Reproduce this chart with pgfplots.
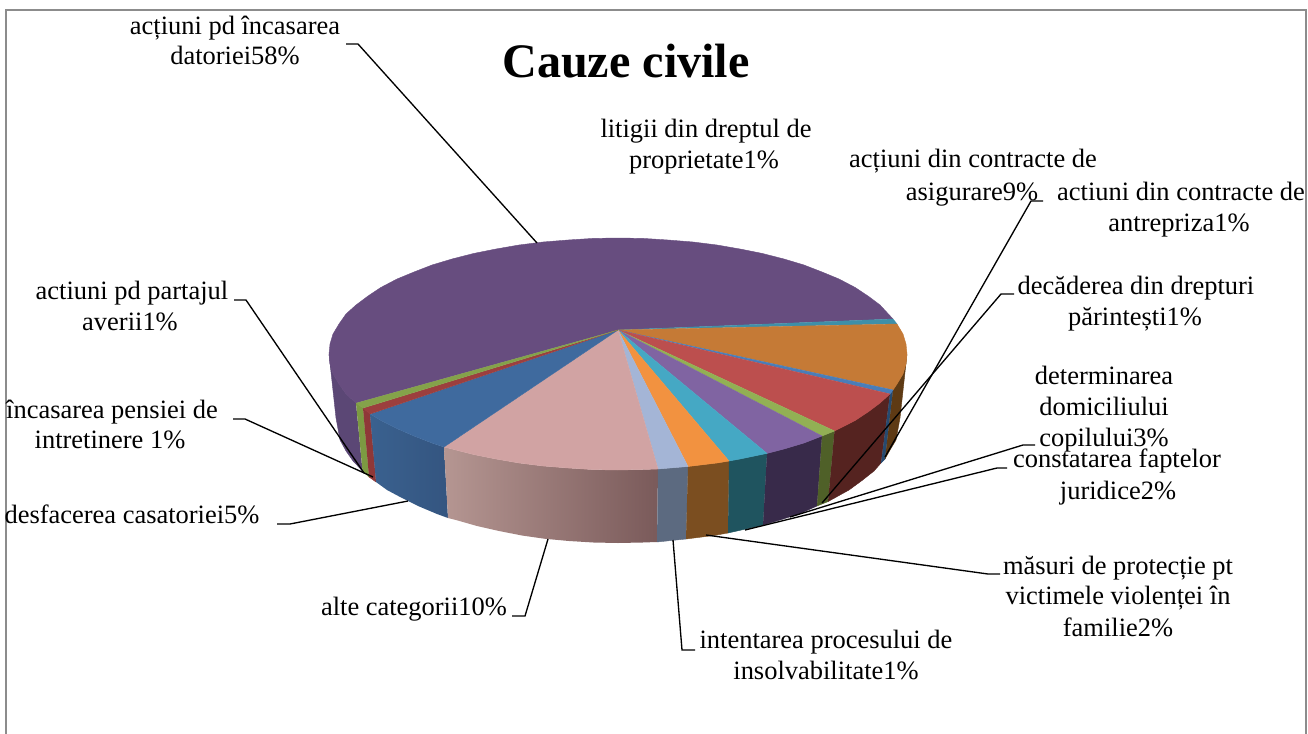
\documentclass[border=0pt]{standalone}
\usepackage{fontspec}
\setmainfont{Liberation Serif}
\usepackage{pgfplots}
\pgfplotsset{compat=1.18}

% top faces
\definecolor{cBig}{HTML}{674D7F}
\definecolor{cLit}{HTML}{3F8FA8}
\definecolor{cAsig}{HTML}{C57A36}
\definecolor{cAntr}{HTML}{4A7DB8}
\definecolor{cDec}{HTML}{BC4F4E}
\definecolor{cDomi}{HTML}{92B054}
\definecolor{cCons}{HTML}{8064A2}
\definecolor{cMas}{HTML}{45A8C4}
\definecolor{cInt}{HTML}{F29240}
\definecolor{cLb}{HTML}{A4B5D6}
\definecolor{cAlte}{HTML}{D1A3A3}
\definecolor{cDesf}{HTML}{3F6A9E}
\definecolor{cPens}{HTML}{9C3F3E}
\definecolor{cPart}{HTML}{84A24A}
% walls
\definecolor{wBig}{HTML}{5B4775}
\definecolor{wAsig}{HTML}{5E3A14}
\definecolor{wAntr}{HTML}{264A70}
\definecolor{wDec}{HTML}{552320}
\definecolor{wDomi}{HTML}{4F6028}
\definecolor{wCons}{HTML}{382A4A}
\definecolor{wMas}{HTML}{1F545F}
\definecolor{wInt}{HTML}{7B4E20}
\definecolor{wLb}{HTML}{5C6A80}
\definecolor{wAlteL}{HTML}{B59692}
\definecolor{wAlteR}{HTML}{7A5A5A}
\definecolor{wDesfL}{HTML}{3A618F}
\definecolor{wDesfR}{HTML}{345580}
\definecolor{wPens}{HTML}{8F3838}
\definecolor{wPart}{HTML}{7C9A42}
\definecolor{frameGray}{HTML}{8C8C8C}

\pgfplotsset{
  pie/.style={draw=#1,fill=#1,line width=.3pt,no markers},
  lead/.style={black,line width=1pt,no markers},
}
\tikzset{
  lbl/.style={anchor=base,inner sep=0pt,font=\fontsize{19.85pt}{22.5pt}\selectfont},
}

\begin{document}
\begin{tikzpicture}
\path[use as bounding box] (0,0) rectangle (981pt,550.5pt);
\begin{axis}[
    at={(0,0)},anchor=south west,
    scale only axis,width=981pt,height=550.5pt,
    xmin=0,xmax=1308,ymin=0,ymax=734,
    y dir=reverse,
    hide axis,clip=false,
  ]
% frame
\addplot[draw=frameGray,line width=1.5pt,no markers] coordinates {(6,734)(6,10)(1306,10)(1306,734)};

% walls
\addplot[pie=wBig] coordinates {(356,403)(346,394)(339,384)(333,374)(330,364)(329,354)(336,418)(340,440)(346,451)(353,461)(362.5,471)};
\addplot[pie=wPart] coordinates {(356,403)(363,408)(369,477)(362.5,471)};
\addplot[pie=wPens] coordinates {(363,408)(370,414)(376,482)(369,477)};
\addplot[draw=none,no markers,left color=wDesfL,right color=wDesfR] coordinates {(370,414)(381,420.5)(397,428.6)(414,436)(432,443)(444,447)(448,518)(437,514)(419,506.4)(402,498)(387,490)(376,482)};
\addplot[draw=none,no markers,left color=wAlteL,right color=wAlteR] coordinates {(444,447)(473.5,454.5)(496,459)(519,463)(543,466)(568,468)(593,469.6)(618,470)(643,469.5)(658,469)(657,542)(642.6,542.5)(618,543)(593.4,542.5)(569,541)(545,538.8)(522,535.5)(499,531)(477,526)(456,520)(448,518)};
\addplot[pie=wLb] coordinates {(658,469)(688,466.5)(686,539)(657,542)};
\addplot[pie=wInt] coordinates {(688,466.5)(717,463)(729,461)(728,533)(714,535.5)(686,539)};
\addplot[pie=wMas] coordinates {(729,461)(740,459)(767,453.4)(763,525)(737,531)(728,533)};
\addplot[pie=wCons] coordinates {(767,453.4)(784,449)(804,443)(822,436)(817,506)(799,514)(780,520)(763,525)};
\addplot[pie=wDomi] coordinates {(822,436)(834.5,431)(828,501.6)(817,506)};
\addplot[pie=wDec] coordinates {(834.5,431)(855,420.6)(868,412)(880,403)(890,394)(881,463)(874,471)(862,480.5)(849,490)(828,501.6)};
\addplot[pie=wAntr] coordinates {(890,394)(893,390)(885,459)(881,463)};
\addplot[pie=wAsig] coordinates {(893,390)(897,384)(903,374)(906,364)(907,354)(900,418)(896,440)(890,450)(885,459)};

% top faces
\addplot[pie=cBig] coordinates {(618,330)(356,403)(346,394)(339,384)(333,374)(330,364)(329,354)(330,344)(333,334)(339,324)(346,314)(356,305)(368,296)(381,287.4)(397,279)(414,272)(432,265)(452,259)(473.5,253.5)(496,249)(519,245)(543,242)(568,240)(593,238.4)(618,238)(643,238.4)(668,240)(693,242)(717,245)(740,249)(762.5,253.5)(784,259)(804,265)(822,272)(839,279)(855,287.4)(868,296)(880,305)(893,319)};
\addplot[pie=cLit] coordinates {(618,330)(893,319)(897,324)};
\addplot[pie=cAsig] coordinates {(618,330)(897,324)(903,334)(906,344)(907,354)(906,364)(903,374)(897,384)(893,390)};
\addplot[pie=cAntr] coordinates {(618,330)(893,390)(890,394)};
\addplot[pie=cDec] coordinates {(618,330)(890,394)(880,403)(868,412)(855,420.6)(834.5,431)};
\addplot[pie=cDomi] coordinates {(618,330)(834.5,431)(822,436)};
\addplot[pie=cCons] coordinates {(618,330)(822,436)(804,443)(784,449)(767,453.4)};
\addplot[pie=cMas] coordinates {(618,330)(767,453.4)(740,459)(729,461)};
\addplot[pie=cInt] coordinates {(618,330)(729,461)(717,463)(688,466.5)};
\addplot[pie=cLb] coordinates {(618,330)(688,466.5)(658,469)};
\addplot[pie=cAlte] coordinates {(618,330)(658,469)(643,469.5)(618,470)(593,469.6)(568,468)(543,466)(519,463)(496,459)(473.5,454.5)(444,447)};
\addplot[pie=cDesf] coordinates {(618,330)(444,447)(432,443)(414,436)(397,428.6)(381,420.5)(370,414)};
\addplot[pie=cPens] coordinates {(618,330)(370,414)(363,408)};
\addplot[pie=cPart] coordinates {(618,330)(363,408)(356,403)};

% leader lines
\addplot[lead] coordinates {(346,44)(358,44)(537,243)};
\addplot[lead] coordinates {(234,300)(246,300)(364,473)};
\addplot[lead] coordinates {(233,419)(245,419)(373,477)};
\addplot[lead] coordinates {(277,524)(290,524)(408,501)};
\addplot[lead] coordinates {(512,616)(525,616)(548,539)};
\addplot[lead] coordinates {(695,650)(682,650)(673,540)};
\addplot[lead] coordinates {(1000,574)(988,574)(706,535)};
\addplot[lead] coordinates {(1007,468)(997,468)(745,530)};
\addplot[lead] coordinates {(1035,445)(1023,445)(790,517)};
\addplot[lead] coordinates {(1014,294)(1001,294)(822,503)};
\addplot[lead] coordinates {(1043,201)(1031,201)(885,457)};

% title and labels
\node[anchor=base,inner sep=0pt,font=\fontsize{36.1pt}{40pt}\selectfont\bfseries] at (axis cs:626,78) {Cauze civile};
\node[lbl] at (axis cs:235,35) {acțiuni pd încasarea};
\node[lbl] at (axis cs:235,65) {datoriei58\%};
\node[lbl] at (axis cs:706,138) {litigii din dreptul de};
\node[lbl] at (axis cs:704,169) {proprietate1\%};
\node[lbl] at (axis cs:973,168) {acțiuni din contracte de};
\node[lbl] at (axis cs:972,200) {asigurare9\%};
\node[lbl] at (axis cs:1181,200) {actiuni din contracte de};
\node[lbl] at (axis cs:1179,231) {antrepriza1\%};
\node[lbl] at (axis cs:1136,294) {decăderea din drepturi};
\node[lbl] at (axis cs:1135,325) {părintești1\%};
\node[lbl] at (axis cs:1104,384) {determinarea};
\node[lbl] at (axis cs:1104,415) {domiciliului};
\node[lbl] at (axis cs:1104,446) {copilului3\%};
\node[lbl] at (axis cs:1117,467) {constatarea faptelor};
\node[lbl] at (axis cs:1118,499) {juridice2\%};
\node[lbl] at (axis cs:1118,574) {măsuri de protecție pt};
\node[lbl] at (axis cs:1118,604) {victimele violenței în};
\node[lbl] at (axis cs:1118,636) {familie2\%};
\node[lbl] at (axis cs:826,648) {intentarea procesului de};
\node[lbl] at (axis cs:826,679) {insolvabilitate1\%};
\node[lbl] at (axis cs:414,615) {alte categorii10\%};
\node[lbl] at (axis cs:132,523) {desfacerea casatoriei5\%};
\node[lbl] at (axis cs:112,418) {încasarea pensiei de};
\node[lbl] at (axis cs:110,448) {intretinere 1\%};
\node[lbl] at (axis cs:132,299) {actiuni pd partajul};
\node[lbl] at (axis cs:130,330) {averii1\%};
\end{axis}
\end{tikzpicture}
\end{document}
